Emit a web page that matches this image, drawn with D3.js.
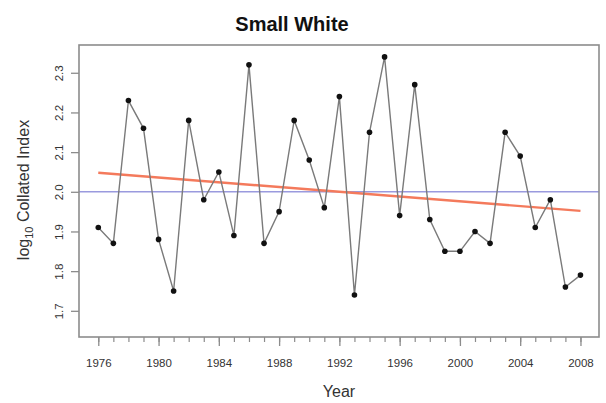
<!DOCTYPE html>
<html>
<head>
<meta charset="utf-8">
<script src="https://cdn.jsdelivr.net/npm/d3@7/dist/d3.min.js"></script>
<style>
  html, body { margin: 0; padding: 0; background: #fff; }
  svg { display: block; font-family: "Liberation Sans", Arial, sans-serif; }
</style>
</head>
<body>
<svg id="chart" width="606" height="403"></svg>
<script>
// Small White: log10 collated index by year
const years = [1976, 1977, 1978, 1979, 1980, 1981, 1982, 1983, 1984, 1985, 1986,
               1987, 1988, 1989, 1990, 1991, 1992, 1993, 1994, 1995, 1996, 1997,
               1998, 1999, 2000, 2001, 2002, 2003, 2004, 2005, 2006, 2007, 2008];
const logIndex = [1.91, 1.87, 2.23, 2.16, 1.88, 1.75, 2.18, 1.98, 2.05, 1.89, 2.32,
                  1.87, 1.95, 2.18, 2.08, 1.96, 2.24, 1.74, 2.15, 2.34, 1.94, 2.27,
                  1.93, 1.85, 1.85, 1.90, 1.87, 2.15, 2.09, 1.91, 1.98, 1.76, 1.79];
// fitted trend, start and end of the series
const trendYears = [1976, 2008];
const trendValues = [2.048, 1.952];
// reference level
const referenceLevel = 2.0;
const yTicks = [1.7, 1.8, 1.9, 2.0, 2.1, 2.2, 2.3];
const yTickLabels = ["1.7", "1.8", "1.9", "2.0", "2.1", "2.2", "2.3"];
const xMajorTicks = [1976, 1980, 1984, 1988, 1992, 1996, 2000, 2004, 2008];

const svg = d3.select("#chart");
const plotLeft = 79, plotRight = 599, plotTop = 45, plotBottom = 337;

const x = d3.scaleLinear().domain([1974.72, 2009.23]).range([plotLeft, plotRight]);
const y = d3.scaleLinear().domain([1.634, 2.37]).range([plotBottom, plotTop]);

// reference line
svg.append("line")
  .attr("x1", plotLeft).attr("x2", plotRight)
  .attr("y1", y(referenceLevel)).attr("y2", y(referenceLevel))
  .attr("stroke", "#9a9ade").attr("stroke-width", 1.4);

// trend line
svg.append("path")
  .datum(trendYears.map((t, i) => [t, trendValues[i]]))
  .attr("d", d3.line().x(d => x(d[0])).y(d => y(d[1])))
  .attr("fill", "none")
  .attr("stroke", "#f47a5c").attr("stroke-width", 2.4);

// series line
const pts = years.map((yr, i) => [yr, logIndex[i]]);
svg.append("path")
  .datum(pts)
  .attr("d", d3.line().x(d => x(d[0])).y(d => y(d[1])))
  .attr("fill", "none")
  .attr("stroke", "#7a7a7a").attr("stroke-width", 1.4);

svg.append("g").selectAll("circle")
  .data(pts).join("circle")
  .attr("cx", d => x(d[0])).attr("cy", d => y(d[1]))
  .attr("r", 2.8).attr("fill", "#111");

// frame
svg.append("rect")
  .attr("x", plotLeft).attr("y", plotTop)
  .attr("width", plotRight - plotLeft).attr("height", plotBottom - plotTop)
  .attr("fill", "none").attr("stroke", "#8c8c8c").attr("stroke-width", 1.6);

// x axis: minor ticks every year, labelled major ticks every 4 years
const xMinor = d3.axisBottom(x).tickValues(years).tickSize(5).tickFormat("");
const gxMinor = svg.append("g").attr("transform", `translate(0,${plotBottom})`).call(xMinor);
gxMinor.select(".domain").remove();
gxMinor.selectAll("line").attr("stroke", "#8c8c8c").attr("stroke-width", 1.2);

const xMajor = d3.axisBottom(x).tickValues(xMajorTicks).tickSize(9).tickPadding(13).tickFormat(d3.format("d"));
const gx = svg.append("g").attr("transform", `translate(0,${plotBottom})`).call(xMajor);
gx.select(".domain").remove();
gx.selectAll("line").attr("stroke", "#8c8c8c").attr("stroke-width", 1.3);
gx.selectAll("text").attr("font-size", 11.5).attr("fill", "#333")
  .attr("font-family", "Liberation Sans, Arial, sans-serif");

// y axis with rotated tick labels
const yAxis = d3.axisLeft(y).tickValues(yTicks).tickSize(8)
  .tickFormat((d, i) => yTickLabels[i]);
const gy = svg.append("g").attr("transform", `translate(${plotLeft},0)`).call(yAxis);
gy.select(".domain").remove();
gy.selectAll("line").attr("stroke", "#8c8c8c").attr("stroke-width", 1.3);
gy.selectAll("text")
  .attr("font-size", 11.5).attr("fill", "#333")
  .attr("font-family", "Liberation Sans, Arial, sans-serif")
  .attr("x", null)
  .attr("text-anchor", "middle")
  .attr("transform", "translate(-20,0) rotate(-90)")
  .attr("dy", "0.35em");

// titles
svg.append("text")
  .attr("x", 292).attr("y", 31)
  .attr("text-anchor", "middle")
  .attr("font-size", 20).attr("font-weight", "bold").attr("fill", "#111")
  .text("Small White");

svg.append("text")
  .attr("x", (plotLeft + plotRight) / 2).attr("y", 397)
  .attr("text-anchor", "middle")
  .attr("font-size", 16).attr("fill", "#333")
  .text("Year");

const yTitle = svg.append("text")
  .attr("transform", `translate(29,${(plotTop + plotBottom) / 2 - 1}) rotate(-90)`)
  .attr("text-anchor", "middle")
  .attr("font-size", 16).attr("fill", "#333");
yTitle.append("tspan").text("log");
yTitle.append("tspan").attr("font-size", 11).attr("dy", 4).text("10");
yTitle.append("tspan").attr("dy", -4).text(" Collated Index");
</script>
</body>
</html>
